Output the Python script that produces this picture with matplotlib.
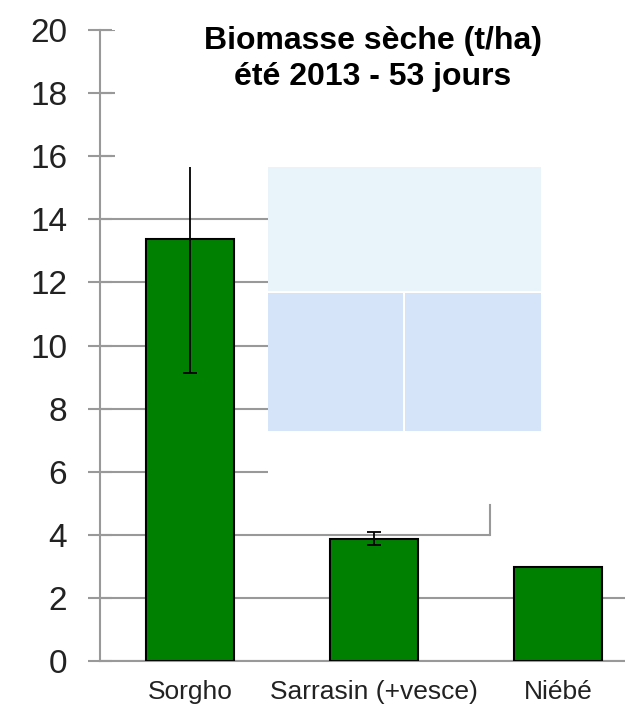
import matplotlib
matplotlib.use('Agg')
import matplotlib.pyplot as plt
from matplotlib.patches import Rectangle
from matplotlib.lines import Line2D

# data
categories = ['Sorgho', 'Sarrasin (+vesce)', 'Niébé']
biomasse = [13.37, 3.88, 2.97]
erreur = [4.24, 0.2, 0.0]
yticks = [0, 2, 4, 6, 8, 10, 12, 14, 16, 18, 20]
titre = 'Biomasse sèche (t/ha)\nété 2013 - 53 jours'

W, H = 625, 710
plt.rcParams['font.family'] = ['Liberation Sans', 'DejaVu Sans']

def fx(x):
    return x / W

def fy(y):
    return 1 - y / H

fig = plt.figure(figsize=(W / 100, H / 100), dpi=100)
ax = fig.add_axes([fx(100), fy(661), (W - 100) / W, (661 - 30) / H])

grey = '#999999'
pos = list(range(len(categories)))
ax.bar(pos, biomasse, width=0.478, color='#008000', edgecolor='black',
       linewidth=1.5, zorder=3)
for p, v, e in zip(pos, biomasse, erreur):
    if e > 0:
        ax.errorbar(p, v, yerr=e, fmt='none', ecolor='black', elinewidth=1.3,
                    capsize=5, capthick=1.3, zorder=3.5)

ax.set_ylim(0, 20)
ax.set_xlim(-0.489, 2.364)
ax.set_yticks(yticks)
ax.set_xticks(pos)
ax.set_xticklabels(categories, fontsize=19, color='#222222')
ax.tick_params(axis='x', length=0, pad=14)
ax.tick_params(axis='y', direction='inout', length=17, width=1.5, color=grey,
               labelsize=24, labelcolor='#222222', pad=15)
ax.set_axisbelow(True)
ax.yaxis.grid(True, color=grey, linewidth=1.5)
for s in ['top', 'right']:
    ax.spines[s].set_visible(False)
ax.spines['left'].set_color(grey)
ax.spines['left'].set_linewidth(1.5)
ax.spines['bottom'].set_color(grey)
ax.spines['bottom'].set_linewidth(1.5)

# collage-like blank areas and light blue boxes
def box(x0, y0, x1, y1, color, z):
    ax.add_patch(Rectangle((fx(x0), fy(y1)), fx(x1) - fx(x0), fy(y0) - fy(y1),
                           transform=fig.transFigure, facecolor=color,
                           edgecolor='none', zorder=z, clip_on=False))

box(115, 0, W, 167, 'white', 4)
box(268, 167, 490, 522, 'white', 1)
box(490, 167, W, 592, 'white', 1)
box(268, 167, 541, 291, '#e8f3fa', 1.5)
box(268, 293, 403, 431, '#d5e4f8', 1.5)
box(405, 293, 541, 431, '#d5e4f8', 1.5)
ax.add_line(Line2D([fx(490), fx(490)], [fy(505), fy(535)], transform=fig.transFigure,
                   color=grey, linewidth=1.5, zorder=1.2, clip_on=False))

fig.text(fx(373), fy(26), titre, ha='center', va='top', fontsize=23,
         fontweight='bold', linespacing=1.25, zorder=5)

fig.savefig('out.png', dpi=100)
